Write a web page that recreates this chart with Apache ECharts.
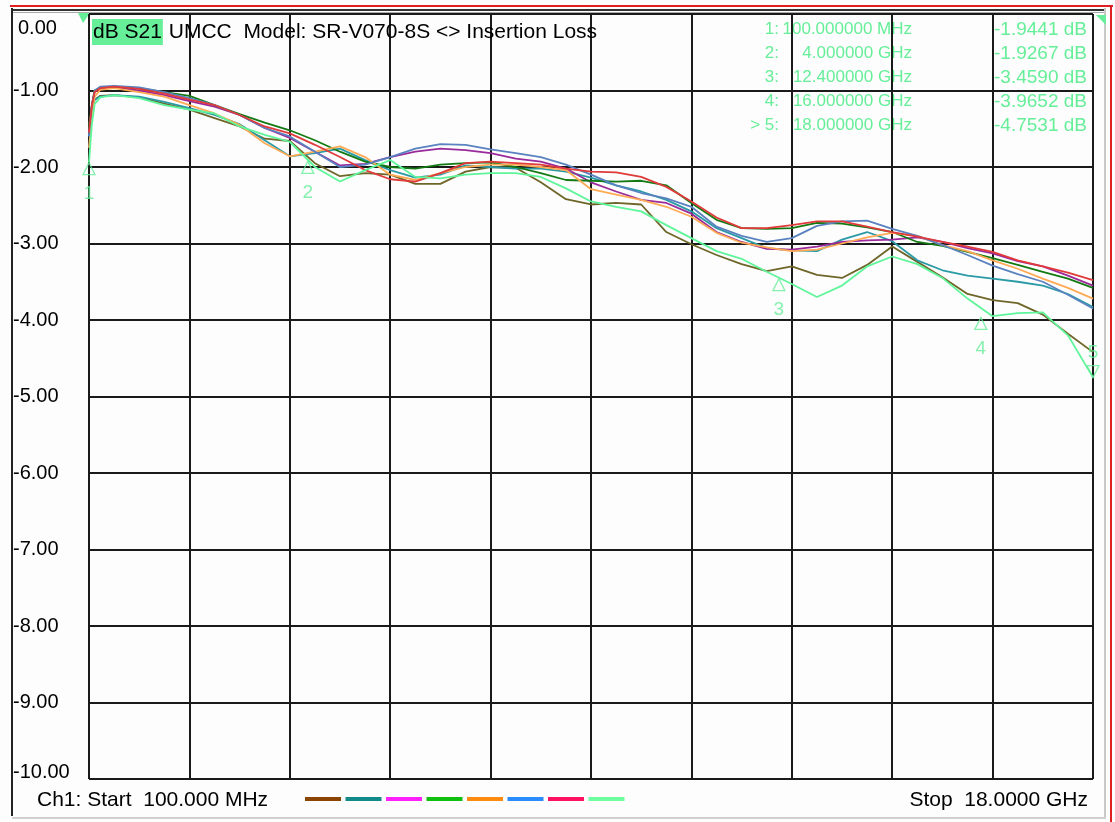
<!DOCTYPE html>
<html>
<head>
<meta charset="utf-8">
<script src="https://cdn.jsdelivr.net/npm/echarts/dist/echarts.min.js"></script>
<style>
  html, body { margin: 0; padding: 0; background: #fdfdfd; }
  #main { width: 1115px; height: 822px; }
</style>
</head>
<body>
<div id="main"></div>
<script>
// frequency points (GHz)
const freqs = [0.1, 0.15, 0.2, 0.3, 0.548, 0.995, 1.443, 1.890, 2.338, 2.785, 3.233, 3.680, 4.128, 4.575,
  5.023, 5.470, 5.918, 6.365, 6.813, 7.260, 7.708, 8.155, 8.603, 9.050, 9.498, 9.945, 10.393, 10.840,
  11.288, 11.735, 12.183, 12.630, 13.078, 13.525, 13.973, 14.420, 14.868, 15.315, 15.763, 16.210,
  16.658, 17.105, 17.553, 18.000];

// S21 traces (dB), one per cable
const trace1 = [-1.45, -1.25, -1.12, -1.07, -1.06, -1.09, -1.17, -1.25, -1.36, -1.47, -1.63, -1.66, -1.95, -2.12,
  -2.08, -2.10, -2.22, -2.22, -2.06, -2.00, -2.01, -2.20, -2.42, -2.49, -2.47, -2.49, -2.85, -3.01,
  -3.15, -3.27, -3.36, -3.30, -3.41, -3.45, -3.28, -3.04, -3.24, -3.44, -3.66, -3.74, -3.78, -3.93, -4.18, -4.42];
const trace2 = [-1.60, -1.30, -1.12, -1.08, -1.06, -1.08, -1.15, -1.23, -1.32, -1.44, -1.65, -1.86, -1.82, -1.76,
  -1.91, -2.04, -2.14, -2.10, -1.98, -2.00, -2.02, -2.02, -2.06, -2.14, -2.24, -2.32, -2.43, -2.58,
  -2.80, -2.93, -3.06, -3.09, -3.10, -2.95, -2.85, -2.97, -3.22, -3.35, -3.42, -3.46, -3.50, -3.55, -3.66, -3.83];
const trace3 = [-1.55, -1.20, -1.02, -0.97, -0.96, -1.00, -1.06, -1.14, -1.21, -1.32, -1.49, -1.62, -1.80, -1.98,
  -1.96, -1.87, -1.80, -1.76, -1.78, -1.82, -1.89, -1.93, -2.02, -2.20, -2.32, -2.43, -2.47, -2.61,
  -2.85, -2.98, -3.07, -3.08, -3.04, -2.98, -2.96, -2.95, -2.92, -2.98, -3.06, -3.13, -3.23, -3.30, -3.42, -3.55];
const trace4 = [-1.50, -1.20, -1.00, -0.97, -0.95, -0.97, -1.02, -1.07, -1.19, -1.31, -1.42, -1.52, -1.65, -1.80,
  -1.93, -2.00, -2.02, -1.97, -1.95, -1.94, -2.00, -2.08, -2.17, -2.18, -2.19, -2.18, -2.24, -2.47,
  -2.69, -2.80, -2.81, -2.80, -2.73, -2.74, -2.79, -2.85, -2.98, -3.03, -3.11, -3.19, -3.28, -3.37, -3.46, -3.58];
const trace5 = [-1.75, -1.35, -1.08, -0.99, -0.97, -1.02, -1.08, -1.19, -1.30, -1.45, -1.69, -1.86, -1.80, -1.73,
  -1.87, -2.10, -2.17, -2.08, -2.00, -1.97, -1.97, -2.00, -2.04, -2.29, -2.36, -2.43, -2.52, -2.65,
  -2.86, -2.99, -3.05, -3.10, -3.08, -3.00, -2.92, -2.86, -2.90, -3.02, -3.10, -3.22, -3.33, -3.46, -3.58, -3.72];
const trace6 = [-1.60, -1.20, -1.00, -0.95, -0.94, -0.96, -1.02, -1.10, -1.19, -1.32, -1.49, -1.60, -1.80, -2.00,
  -1.97, -1.87, -1.76, -1.70, -1.71, -1.77, -1.82, -1.87, -1.97, -2.10, -2.24, -2.34, -2.41, -2.52,
  -2.78, -2.90, -2.98, -2.93, -2.77, -2.71, -2.70, -2.81, -2.90, -3.02, -3.15, -3.29, -3.40, -3.50, -3.67, -3.85];
const trace7 = [-1.55, -1.20, -1.02, -0.97, -0.95, -0.98, -1.04, -1.12, -1.19, -1.32, -1.47, -1.56, -1.71, -1.87,
  -2.04, -2.16, -2.19, -2.08, -1.95, -1.93, -1.95, -1.97, -2.02, -2.06, -2.07, -2.13, -2.26, -2.45,
  -2.66, -2.80, -2.80, -2.76, -2.71, -2.71, -2.78, -2.85, -2.91, -2.98, -3.04, -3.11, -3.22, -3.30, -3.38, -3.48];
const trace8 = [-1.94, -1.45, -1.18, -1.09, -1.06, -1.10, -1.19, -1.25, -1.30, -1.47, -1.58, -1.67, -2.00, -2.19,
  -2.04, -1.91, -2.13, -2.15, -2.10, -2.08, -2.08, -2.13, -2.28, -2.45, -2.52, -2.58, -2.76, -2.93,
  -3.10, -3.20, -3.37, -3.53, -3.70, -3.55, -3.30, -3.17, -3.27, -3.45, -3.72, -3.95, -3.91, -3.90, -4.20, -4.75];

// markers on the active trace
const markerNames = ['1:', '2:', '3:', '4:', '> 5:'];
const markerFreq = [0.1, 4.0, 12.4, 16.0, 18.0];
const markerDb = [-1.9441, -1.9267, -3.4590, -3.9652, -4.7531];

// y tick labels (dB)
const yTicks = [0, -1, -2, -3, -4, -5, -6, -7, -8, -9, -10];

const traces = [trace1, trace2, trace3, trace4, trace5, trace6, trace7, trace8];
const lineColors = ['#6e6628', '#2a9aa6', '#9b2a9b', '#137a13', '#ffaa55', '#5a82c0', '#e03a3a', '#5ff59a'];
const legendColors = ['#8b4500', '#138a8a', '#ff20ff', '#10c010', '#ff8a10', '#2a8cff', '#ff1060', '#70ffa0'];
const mkColor = '#66ee99';
const font = '"Liberation Sans", Arial, sans-serif';

const chart = echarts.init(document.getElementById('main'));

const series = traces.map((vals, i) => ({
  name: 'T' + (i + 1),
  type: 'line',
  xAxisIndex: 0,
  data: freqs.map((f, j) => [f, vals[j]]),
  symbol: 'none',
  lineStyle: { color: lineColors[i], width: 1.8 },
  itemStyle: { color: lineColors[i] },
  animation: false,
  z: 3 + i
}));

series.push({
  type: 'scatter',
  xAxisIndex: 0,
  clip: false,
  animation: false,
  z: 20,
  data: markerFreq.map((f, i) => {
    const last = i === markerFreq.length - 1;
    return {
      value: [f, markerDb[i]],
      symbolRotate: last ? 180 : 0,
      symbolOffset: [0, last ? -6 : 6],
      label: {
        show: true,
        position: last ? 'top' : 'bottom',
        distance: last ? 3 : 9,
        formatter: String(i + 1),
        color: mkColor,
        fontSize: 19,
        fontFamily: font
      }
    };
  }),
  symbol: 'triangle',
  symbolSize: [12, 12],
  itemStyle: { color: 'rgba(0,0,0,0)', borderColor: mkColor, borderWidth: 1.3 }
});

// marker readout rows
const table = [];
markerNames.forEach((n, i) => {
  const y = 31 + i * 24;
  const fTxt = markerFreq[i] < 1 ? (markerFreq[i] * 1000).toFixed(6) + ' MHz' : markerFreq[i].toFixed(6) + ' GHz';
  table.push({ type: 'text', right: 1115 - 779, top: y - 10,
    style: { text: n, fill: mkColor, font: '17px ' + font, textAlign: 'right' } });
  table.push({ type: 'text', right: 1115 - 912, top: y - 10,
    style: { text: fTxt, fill: mkColor, font: '17px ' + font, textAlign: 'right' } });
  table.push({ type: 'text', right: 1115 - 1087, top: y - 11,
    style: { text: markerDb[i].toFixed(4) + ' dB', fill: mkColor, font: '19px ' + font, textAlign: 'right' } });
});

const frame = [
  { type: 'rect', shape: { x: 10, y: 5, width: 1103, height: 2 }, style: { fill: '#e02020' } },
  { type: 'rect', shape: { x: 12, y: 9, width: 1093, height: 2 }, style: { fill: '#333' } },
  { type: 'rect', shape: { x: 12, y: 12, width: 1093, height: 1 }, style: { fill: '#aaa' } },
  { type: 'rect', shape: { x: 11, y: 8, width: 2, height: 808 }, style: { fill: '#222' } },
  { type: 'rect', shape: { x: 1104, y: 8, width: 2, height: 810 }, style: { fill: '#c8c8c8' } },
  { type: 'rect', shape: { x: 1110, y: 5, width: 2, height: 817 }, style: { fill: '#e02020' } },
  { type: 'rect', shape: { x: 12, y: 817, width: 1094, height: 2 }, style: { fill: '#d0d0d0' } },
  { type: 'polygon', shape: { points: [[78, 13], [90, 13], [83, 23]] }, style: { fill: mkColor } },
  { type: 'polygon', shape: { points: [[1096, 15], [1106, 15], [1106, 25]] }, style: { fill: mkColor } },
  { type: 'text', left: 37, top: 790,
    style: { text: 'Ch1: Start  100.000 MHz', fill: '#000', font: '21px ' + font } },
  { type: 'text', right: 1115 - 1088, top: 790,
    style: { text: 'Stop  18.0000 GHz', fill: '#000', font: '21px ' + font, textAlign: 'right' } }
];

chart.setOption({
  backgroundColor: '#fdfdfd',
  animation: false,
  title: {
    left: 92, top: 19, padding: 0,
    text: '{hl|dB S21} UMCC  Model: SR-V070-8S <> Insertion Loss',
    textStyle: {
      fontSize: 21, fontWeight: 'normal', color: '#000', fontFamily: font,
      rich: { hl: { backgroundColor: '#66ee99', padding: [3, 1, 2, 1], fontSize: 21, fontFamily: font, color: '#000' } }
    }
  },
  legend: {
    left: 300, top: 792,
    icon: 'rect', itemWidth: 36, itemHeight: 4, itemGap: 4.5,
    selectedMode: false,
    formatter: () => '',
    data: traces.map((t, i) => ({ name: 'T' + (i + 1), itemStyle: { color: legendColors[i] } }))
  },
  grid: { left: 89, right: 22, top: 14, bottom: 43 },
  xAxis: [
    { type: 'value', min: 0.1, max: 18, show: false },
    { type: 'value', min: 0, max: 10, interval: 1, position: 'bottom',
      axisLine: { show: false }, axisTick: { show: false }, axisLabel: { show: false },
      splitLine: { show: true, lineStyle: { color: '#1a1a1a', width: 2 } } }
  ],
  yAxis: {
    type: 'value', min: yTicks[yTicks.length - 1], max: yTicks[0], interval: 1,
    axisLine: { show: false }, axisTick: { show: false },
    splitLine: { show: true, lineStyle: { color: '#1a1a1a', width: 2 } },
    axisLabel: {
      align: 'left', margin: 76, color: '#000', fontSize: 20, fontFamily: font,
      formatter: v => v === 0 ? '{top|0.00}' : v === -10 ? '{bot|-10.00}' : v.toFixed(2),
      rich: {
        top: { padding: [28, 0, 0, 5], fontSize: 20, fontFamily: font, color: '#000' },
        bot: { padding: [0, 0, 14, 0], fontSize: 20, fontFamily: font, color: '#000' }
      }
    }
  },
  graphic: frame.concat(table),
  series: series
});
</script>
</body>
</html>
